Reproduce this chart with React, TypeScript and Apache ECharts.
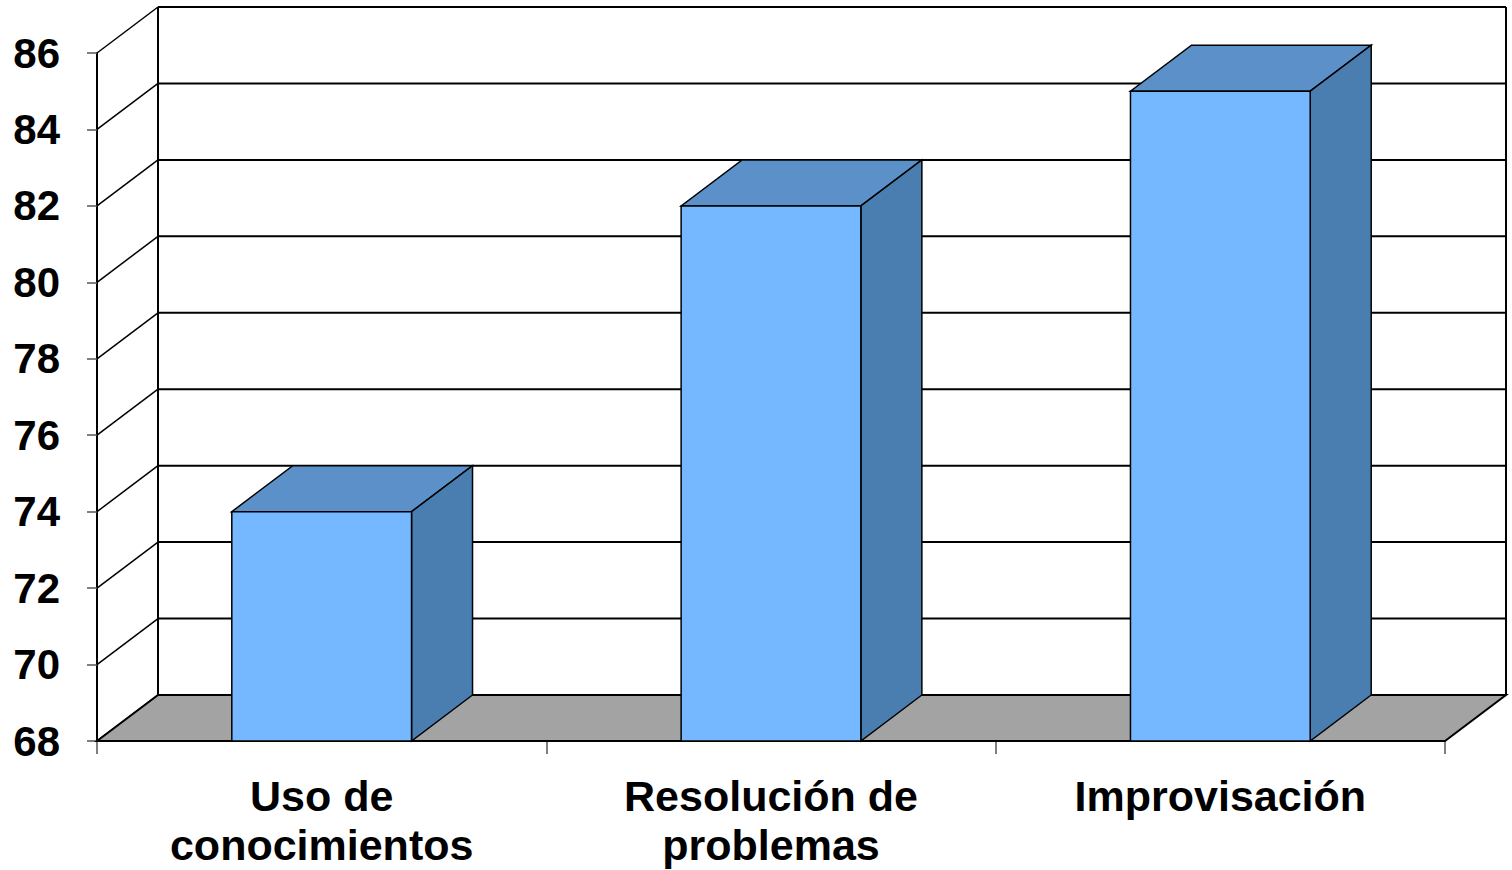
import React, { useEffect, useRef } from "react";
import * as echarts from "echarts";

const categories = ["Uso de\nconocimientos", "Resolución de\nproblemas", "Improvisación"];
const values = [74, 82, 85];
const yTicks = [68, 70, 72, 74, 76, 78, 80, 82, 84, 86];
const yMin = 68;
const yMax = 86;
const yStep = 2;

const DX = 61;
const DY = -46;

export default function App() {
  const ref = useRef<HTMLDivElement>(null);
  useEffect(() => {
    const chart = echarts.init(ref.current!, null, { renderer: "svg" });
    const font = "'Liberation Sans', Arial, sans-serif";
    const option: any = {
      animation: false,
      backgroundColor: "#ffffff",
      grid: { left: 97, top: 53, width: 1348, height: 688 },
      xAxis: {
        type: "category",
        data: categories,
        boundaryGap: true,
        axisLine: { show: true, lineStyle: { color: "#000", width: 2 } },
        axisTick: { show: true, length: 13, lineStyle: { color: "#555", width: 1.5 } },
        axisLabel: {
          fontFamily: font,
          fontWeight: "bold",
          fontSize: 43,
          color: "#000",
          lineHeight: 49,
          margin: 30,
        },
        splitLine: { show: false },
      },
      yAxis: {
        type: "value",
        min: yMin,
        max: yMax,
        interval: yStep,
        axisLine: { show: true, lineStyle: { color: "#000", width: 2 } },
        axisTick: { show: true, length: 10, lineStyle: { color: "#555", width: 1.5 } },
        axisLabel: {
          fontFamily: font,
          fontWeight: "bold",
          fontSize: 42,
          color: "#000",
          margin: 37,
          padding: [4, 0, 0, 0],
        },
        splitLine: { show: false },
      },
      series: [
        {
          type: "custom",
          silent: true,
          z: 1,
          data: yTicks.map((v) => [0, v]),
          encode: { x: 0, y: 1 },
          renderItem: (params: any, api: any) => {
            const cs = params.coordSys;
            const x0 = cs.x;
            const w = cs.width;
            const y = api.coord([0, api.value(1)])[1];
            return {
              type: "group",
              children: [
                {
                  type: "line",
                  shape: { x1: x0, y1: y, x2: x0 + DX, y2: y + DY },
                  style: { stroke: "#000", lineWidth: 1.5 },
                },
                {
                  type: "line",
                  shape: { x1: x0 + DX, y1: y + DY, x2: x0 + w + DX, y2: y + DY },
                  style: { stroke: "#000", lineWidth: 2 },
                },
              ],
            };
          },
        },
        {
          type: "custom",
          silent: true,
          z: 2,
          data: [[0, yMin]],
          encode: { x: 0, y: 1 },
          renderItem: (params: any, api: any) => {
            const cs = params.coordSys;
            const x0 = cs.x;
            const w = cs.width;
            const yTop = api.coord([0, yMax])[1];
            const yb = api.coord([0, yMin])[1];
            return {
              type: "group",
              children: [
                {
                  type: "line",
                  shape: { x1: x0 + DX, y1: yTop + DY, x2: x0 + DX, y2: yb + DY },
                  style: { stroke: "#000", lineWidth: 2 },
                },
                {
                  type: "line",
                  shape: { x1: x0 + w + DX, y1: yTop + DY, x2: x0 + w + DX, y2: yb + DY },
                  style: { stroke: "#000", lineWidth: 2 },
                },
                {
                  type: "polygon",
                  shape: {
                    points: [
                      [x0, yb],
                      [x0 + w, yb],
                      [x0 + w + DX, yb + DY],
                      [x0 + DX, yb + DY],
                    ],
                  },
                  style: { fill: "#a3a3a3", stroke: "#000", lineWidth: 2 },
                },
              ],
            };
          },
        },
        {
          type: "custom",
          silent: true,
          z: 3,
          data: values.map((v, i) => [i, v]),
          encode: { x: 0, y: 1 },
          renderItem: (params: any, api: any) => {
            const idx = api.value(0);
            const v = api.value(1);
            const top = api.coord([idx, v]);
            const base = api.coord([idx, yMin]);
            const bw = api.size([1, 0])[0] * 0.4;
            const x1 = top[0] - bw / 2;
            const x2 = top[0] + bw / 2;
            const yT = top[1];
            const yB = base[1];
            return {
              type: "group",
              children: [
                {
                  type: "polygon",
                  shape: {
                    points: [
                      [x1, yT],
                      [x2, yT],
                      [x2 + DX, yT + DY],
                      [x1 + DX, yT + DY],
                    ],
                  },
                  style: { fill: "#5b90c8", stroke: "#000", lineWidth: 1.5 },
                },
                {
                  type: "polygon",
                  shape: {
                    points: [
                      [x2, yT],
                      [x2, yB],
                      [x2 + DX, yB + DY],
                      [x2 + DX, yT + DY],
                    ],
                  },
                  style: { fill: "#4a7eb0", stroke: "#000", lineWidth: 1.5 },
                },
                {
                  type: "rect",
                  shape: { x: x1, y: yT, width: bw, height: yB - yT },
                  style: { fill: "#75b8ff", stroke: "#000", lineWidth: 1.5 },
                },
              ],
            };
          },
        },
      ],
    };
    chart.setOption(option);
    return () => chart.dispose();
  }, []);
  return (
    <div
      ref={ref}
      style={{ position: "fixed", left: 0, top: 0, width: 1512, height: 870, background: "#fff" }}
    />
  );
}
